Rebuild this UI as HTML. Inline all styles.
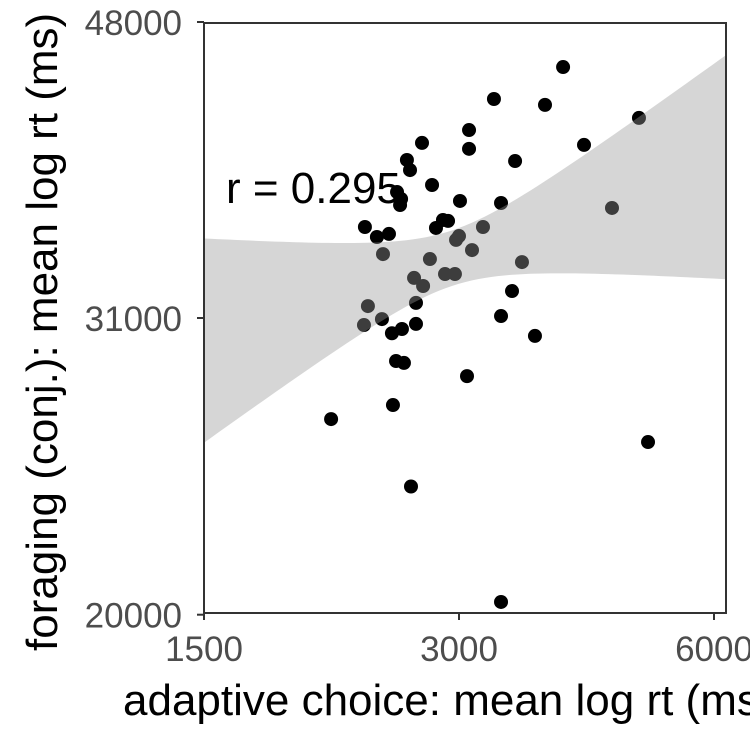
<!DOCTYPE html>
<html><head><meta charset="utf-8"><style>
body{margin:0;background:#fff;overflow:hidden}
svg{display:block;font-family:"Liberation Sans",sans-serif}
</style></head><body>
<svg id="chart" width="750" height="750">
<g id="pts"></g>
<g id="band"></g>
<rect x="204" y="23" width="522" height="590" fill="none" stroke="#333" stroke-width="2"/>
<g id="axes"></g>
<text x="226" y="203" font-size="44" fill="#000">r = 0.295</text>
<text x="123" y="715" font-size="44" fill="#000">adaptive choice: mean log rt (ms)</text>
<text transform="translate(57,651) rotate(-90)" font-size="44" fill="#000">foraging (conj.): mean log rt (ms)</text>
</svg>
<script>
const xVals=[3981,3299,3790,4893,3083,2713,4214,3083,2604,3494,2626,2788,2535,2563,2556,3008,3363,4547,2323,2872,2818,2912,3202,2400,2480,2976,3000,2440,2772,3108,3560,2655,2721,2888,2967,3465,2669,2342,2433,2317,2669,2569,2500,3363,3688,2528,2583,3066,2507,2119,5015,2633,3363];
const yVals=[44910,42840,42470,41660,40920,40150,40030,39800,39150,39090,38570,37730,37340,36960,36630,36850,36740,36470,35460,35830,35410,35780,35460,34940,35100,34790,34990,34070,33820,34270,33670,32890,32500,33080,33080,32260,31700,31550,30950,30680,30730,30500,30310,31090,30190,29090,29010,28450,27260,26700,25810,24170,20380];
const xTicks=[1500,3000,6000];
const yTicks=[20000,31000,48000];
const NS="http://www.w3.org/2000/svg";
const xs=v=>204+255*Math.log2(v/1500);
const ys=v=>318-677*Math.log(v/31000);
const pts=document.getElementById('pts');
for(let i=0;i<xVals.length;i++){
 const c=document.createElementNS(NS,'circle');
 
 
 c.setAttribute('cx',xs(xVals[i]));c.setAttribute('cy',ys(yVals[i]));c.setAttribute('r',7);c.setAttribute('fill','#000');
 pts.appendChild(c);
}
const lx=xVals.map(Math.log),ly=yVals.map(Math.log),n=lx.length;
const mx=lx.reduce((a,b)=>a+b)/n,my=ly.reduce((a,b)=>a+b)/n;
let sxx=0,sxy=0;for(let i=0;i<n;i++){sxx+=(lx[i]-mx)**2;sxy+=(lx[i]-mx)*(ly[i]-my);}
const b=sxy/sxx,a=my-b*mx;let sse=0;for(let i=0;i<n;i++)sse+=(ly[i]-a-b*lx[i])**2;
const s=Math.sqrt(sse/(n-2)),t=2.008;
const up=[],lo=[];
for(let k=0;k<=80;k++){
 const px=204+522*k/80;const L=Math.log(1500*Math.pow(2,(px-204)/255));
 const f=a+b*L,se=s*Math.sqrt(1/n+(L-mx)**2/sxx);
 up.push(px+','+ys(Math.exp(f+t*se)));lo.unshift(px+','+ys(Math.exp(f-t*se)));
}
const band=document.createElementNS(NS,'polygon');


band.setAttribute('points',up.concat(lo).join(' '));band.setAttribute('fill','rgba(153,153,153,0.4)');
document.getElementById('band').appendChild(band);
const ax=document.getElementById('axes');
xTicks.forEach(v=>{const x=xs(v);
 const l=document.createElementNS(NS,'line');
 
 
 l.setAttribute('x1',x);l.setAttribute('x2',x);l.setAttribute('y1',613);l.setAttribute('y2',620);l.setAttribute('stroke','#333');l.setAttribute('stroke-width',2);ax.appendChild(l);
 const tx=document.createElementNS(NS,'text');
 
 
 tx.setAttribute('x',x);tx.setAttribute('y',661);tx.setAttribute('text-anchor','middle');tx.setAttribute('font-size','35');tx.setAttribute('fill','#4d4d4d');tx.textContent=v;ax.appendChild(tx);});
yTicks.forEach(v=>{const y=ys(v);
 const l=document.createElementNS(NS,'line');
 
 
 l.setAttribute('x1',197);l.setAttribute('x2',204);l.setAttribute('y1',y);l.setAttribute('y2',y);l.setAttribute('stroke','#333');l.setAttribute('stroke-width',2);ax.appendChild(l);
 const tx=document.createElementNS(NS,'text');
 
 
 tx.setAttribute('x',182);tx.setAttribute('y',y+13);tx.setAttribute('text-anchor','end');tx.setAttribute('font-size','35');tx.setAttribute('fill','#4d4d4d');tx.textContent=v;ax.appendChild(tx);});
</script>
</body></html>
